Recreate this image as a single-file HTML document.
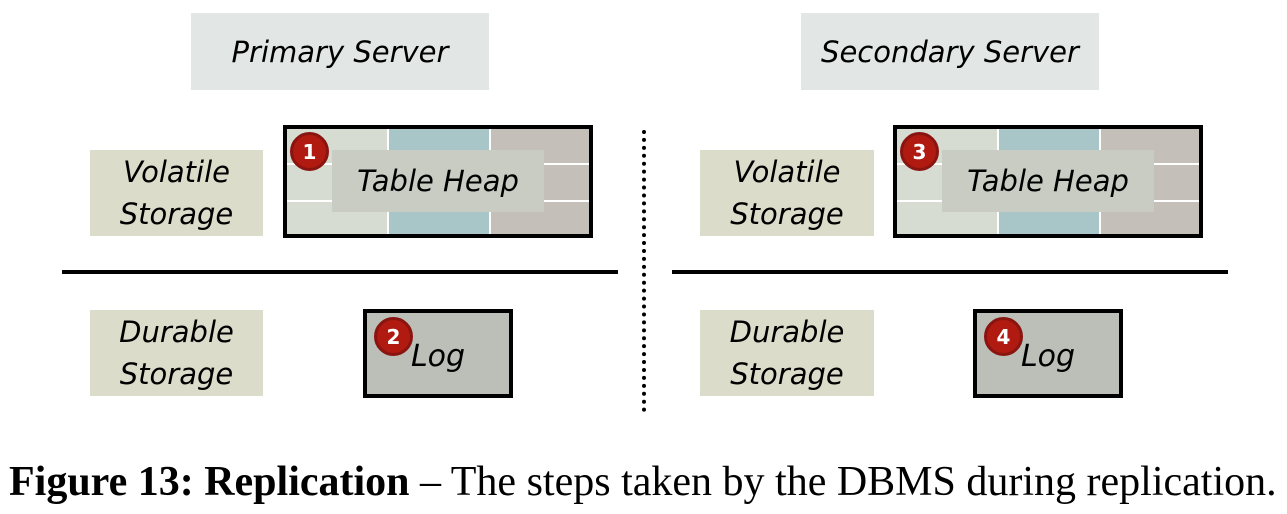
<!DOCTYPE html>
<html><head><style>
body{margin:0;width:1287px;height:514px;background:#fff;position:relative;overflow:hidden;font-family:"DejaVu Sans","Liberation Sans",sans-serif}
.a{position:absolute;box-sizing:border-box}
.t{display:flex;align-items:center;justify-content:center;text-align:center;font-style:italic;color:#000;line-height:42px}
.lab{background:#dcdccb;font-size:29px}
.title{background:#e2e7e6;font-size:29px}
.badge{width:39px;height:39px;border-radius:50%;background:#b01a10;border:3px solid #8a1410;color:#fff;font-weight:bold;font-size:20px;display:flex;align-items:center;justify-content:center;font-style:normal}
</style></head><body>
<div class="a t title" style="left:191px;top:13px;width:298px;height:77px">Primary Server</div>
<div class="a t title" style="left:801px;top:13px;width:298px;height:77px">Secondary Server</div>

<div class="a t lab" style="left:90px;top:150px;width:173px;height:86px">Volatile<br>Storage</div>
<div class="a t lab" style="left:90px;top:310px;width:173px;height:86px">Durable<br>Storage</div>
<div class="a t lab" style="left:700px;top:310px;width:174px;height:86px">Durable<br>Storage</div>
<div class="a t lab" style="left:700px;top:150px;width:174px;height:86px">Volatile<br>Storage</div>

<div class="a" style="left:62px;top:270px;width:556px;height:4px;background:#000"></div>
<div class="a" style="left:672px;top:270px;width:556px;height:4px;background:#000"></div>
<div class="a" style="left:642px;top:130px;width:0;height:282px;border-left:4px dotted #000"></div>

<div class="a" style="left:283px;top:125px;width:310px;height:113px;border:4px solid #000;background:linear-gradient(90deg,#d7dcd3 0 100px,#fff 100px 102px,#a8c5c7 102px 202px,#fff 202px 204px,#c4c0b9 204px)">
 <div class="a" style="left:0;top:34px;width:100%;height:2px;background:#fff"></div>
 <div class="a" style="left:0;top:71px;width:100%;height:2px;background:#fff"></div>
 <div class="a t" style="left:45px;top:21px;width:212px;height:62px;background:#c9ccc3;font-size:29px">Table Heap</div>
</div>
<div class="a" style="left:893px;top:125px;width:310px;height:113px;border:4px solid #000;background:linear-gradient(90deg,#d7dcd3 0 100px,#fff 100px 102px,#a8c5c7 102px 202px,#fff 202px 204px,#c4c0b9 204px)">
 <div class="a" style="left:0;top:34px;width:100%;height:2px;background:#fff"></div>
 <div class="a" style="left:0;top:71px;width:100%;height:2px;background:#fff"></div>
 <div class="a t" style="left:45px;top:21px;width:212px;height:62px;background:#c9ccc3;font-size:29px">Table Heap</div>
</div>
<div class="a badge" style="left:290px;top:132px">1</div>
<div class="a badge" style="left:900px;top:132px">3</div>

<div class="a t" style="left:363px;top:309px;width:150px;height:89px;border:4px solid #000;background:#bcbfb7;font-size:30px;padding-top:6px">Log</div>
<div class="a t" style="left:973px;top:309px;width:150px;height:89px;border:4px solid #000;background:#bcbfb7;font-size:30px;padding-top:6px">Log</div>
<div class="a badge" style="left:374px;top:317px">2</div>
<div class="a badge" style="left:984px;top:317px">4</div>

<div class="a" style="left:9px;top:459px;white-space:nowrap;font-family:'Liberation Serif',serif;font-size:42px;line-height:46px"><b>Figure 13: Replication</b> – The steps taken by the DBMS during replication.</div>
</body></html>
